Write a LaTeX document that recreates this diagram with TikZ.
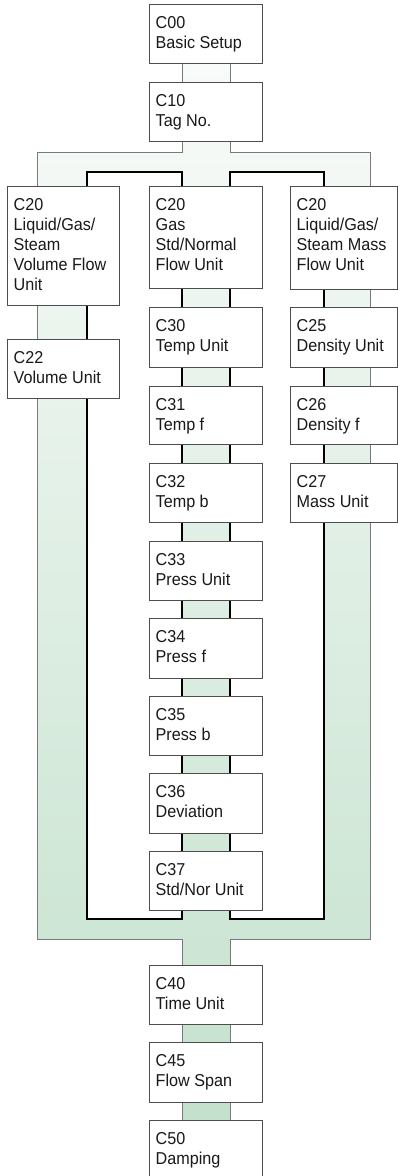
\documentclass[tikz,border=0pt]{standalone}
\usepackage{fontspec}
\setmainfont{Liberation Sans}
\newfontfamily\narrowfont[FakeStretch=0.94]{Liberation Sans}
\definecolor{wallgray}{HTML}{7A7A7A}
\definecolor{boxline}{HTML}{4D4D4D}
\definecolor{pipetop}{HTML}{F8FBF9}
\definecolor{pipebot}{HTML}{C4E1CD}
\tikzset{
  stepbox/.style={draw=boxline, line width=0.9pt, fill=white, inner sep=0pt, anchor=north west},
  txt/.style={inner sep=0pt, anchor=north west, align=left, font=\narrowfont\fontsize{17.2}{20}\selectfont, text=black!90},
  outerwall/.style={draw=wallgray, line width=0.9pt},
  innerwall/.style={draw=black, line width=1.5pt},
}
\newcommand\mybox[6]{%
  \node[stepbox, minimum width=#4pt, minimum height=#5pt] (#1) at (#2,#3) {};
  \node[txt] (#1-t) at ([shift={(6.5pt,-12.5pt)}]#1.north west) {#6};
}
\begin{document}
\begin{tikzpicture}[x=1pt,y=-1pt]
\useasboundingbox (0,0) rectangle (398,1176);
% pipe fill
\shade[top color=pipetop, bottom color=pipebot, even odd rule]
  (182,63) -- (230,63) -- (230,152) -- (370,152) -- (370,939) -- (230,939) -- (230,1120)
  -- (182,1120) -- (182,939) -- (37,939) -- (37,152) -- (182,152) -- cycle
  (87,172) rectangle (182,919)
  (230,172) rectangle (324,919);
% outer walls
\draw[outerwall] (182,63) -- (182,152) -- (37,152) -- (37,939) -- (182,939) -- (182,1120);
\draw[outerwall] (230,63) -- (230,152) -- (370,152) -- (370,939) -- (230,939) -- (230,1120);
% inner walls
\draw[innerwall] (87,172) rectangle (182,919);
\draw[innerwall] (230,172) rectangle (324,919);
% boxes
\mybox{c00}{149}{4}{113}{59}{C00\\Basic Setup}
\mybox{c10}{149}{82}{113}{59}{C10\\Tag No.}
\mybox{c20l}{7}{186}{112}{119}{C20\\Liquid/Gas/\\Steam\\Volume Flow\\Unit}
\mybox{c20m}{149}{186}{113}{102}{C20\\Gas\\Std/Normal\\Flow Unit}
\mybox{c20r}{290}{186}{107}{103}{C20\\Liquid/Gas/\\Steam Mass\\Flow Unit}
\mybox{c22}{7}{339}{112}{59}{C22\\Volume Unit}
\mybox{c30}{149}{307}{113}{60}{C30\\Temp Unit}
\mybox{c31}{149}{386}{113}{58}{C31\\Temp f}
\mybox{c32}{149}{463}{113}{59}{C32\\Temp b}
\mybox{c33}{149}{541}{113}{59}{C33\\Press Unit}
\mybox{c34}{149}{618}{113}{60}{C34\\Press f}
\mybox{c35}{149}{696}{113}{59}{C35\\Press b}
\mybox{c36}{149}{773}{113}{60}{C36\\Deviation}
\mybox{c37}{149}{851}{113}{59}{C37\\Std/Nor Unit}
\mybox{c25}{290}{307}{107}{60}{C25\\Density Unit}
\mybox{c26}{290}{386}{107}{58}{C26\\Density f}
\mybox{c27}{290}{463}{107}{59}{C27\\Mass Unit}
\mybox{c40}{149}{965}{113}{59}{C40\\Time Unit}
\mybox{c45}{149}{1042}{113}{60}{C45\\Flow Span}
\mybox{c50}{149}{1120}{113}{70}{C50\\Damping}
\end{tikzpicture}
\end{document}
